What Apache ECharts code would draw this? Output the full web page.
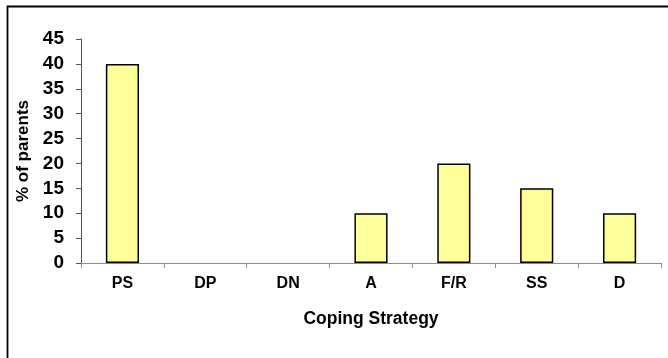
<!DOCTYPE html>
<html>
<head>
<meta charset="utf-8">
<script src="https://cdn.jsdelivr.net/npm/echarts@6/dist/echarts.min.js"></script>
<style>
  html, body { margin: 0; padding: 0; background: #fff; }
  #chart { width: 668px; height: 358px; }
</style>
</head>
<body>
<div id="chart"></div>
<script>
// Coping strategies reported by parents
const categories = ['PS', 'DP', 'DN', 'A', 'F/R', 'SS', 'D'];
const percentParents = [40, 0, 0, 10, 20, 15, 10];
const yTicks = { min: 0, max: 45, interval: 5 };

const chart = echarts.init(document.getElementById('chart'), null, { renderer: 'canvas' });
const font = 'Liberation Sans, Arial, sans-serif';

// Zero-height bars get no outline so nothing is drawn on the baseline
const barData = percentParents.map(v => ({
  value: v,
  itemStyle: v === 0 ? { borderWidth: 0 } : undefined
}));

chart.setOption({
  animation: false,
  backgroundColor: '#ffffff',
  graphic: [{
    type: 'rect',
    shape: { x: 7.5, y: 6.5, width: 720, height: 420 },
    style: { fill: 'none', stroke: '#000', lineWidth: 1.8 },
    silent: true
  }],
  grid: { left: 81, right: 7, top: 39, bottom: 95, containLabel: false },
  xAxis: {
    type: 'category',
    data: categories,
    name: 'Coping Strategy',
    nameLocation: 'middle',
    nameGap: 47,
    nameTextStyle: { fontFamily: font, fontWeight: 'bold', fontSize: 17.5, color: '#000' },
    axisLine: { lineStyle: { color: '#8c8c8c', width: 1 } },
    axisTick: { show: true, alignWithLabel: false, length: 5, lineStyle: { color: '#8c8c8c' } },
    axisLabel: { fontFamily: font, fontWeight: 'bold', fontSize: 16, color: '#000', margin: 13 },
    splitLine: { show: false }
  },
  yAxis: {
    type: 'value',
    min: yTicks.min,
    max: yTicks.max,
    interval: yTicks.interval,
    name: '% of parents',
    nameLocation: 'middle',
    nameGap: 43,
    nameRotate: 90,
    nameTextStyle: { fontFamily: font, fontWeight: 'bold', fontSize: 17, color: '#000' },
    axisLine: { show: true, lineStyle: { color: '#555', width: 1 } },
    axisTick: { show: true, length: 5, lineStyle: { color: '#555' } },
    axisLabel: { fontFamily: font, fontWeight: 'bold', fontSize: 19, color: '#000', margin: 17 },
    splitLine: { show: false }
  },
  series: [{
    type: 'bar',
    data: barData,
    barWidth: '40%',
    itemStyle: { color: '#ffff99', borderColor: '#000', borderWidth: 1.5 }
  }]
});
</script>
</body>
</html>
